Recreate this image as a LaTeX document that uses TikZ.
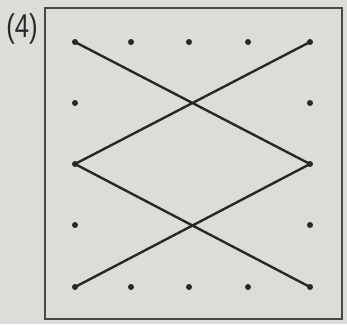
\documentclass[tikz,border=0pt]{standalone}
\usepackage{fontspec}
\setmainfont{Liberation Sans}
\definecolor{paper}{RGB}{221,220,216}
\definecolor{ink}{RGB}{40,40,40}
\tikzset{
  dotnode/.style={circle,fill=ink,inner sep=0pt,minimum size=6pt},
  seg/.style={draw=ink,line width=2.4pt,line cap=round},
  framebox/.style={draw=ink!85,line width=1.6pt}
}
\begin{document}
\begin{tikzpicture}[x=1pt,y=-1pt]
\fill[paper] (0,0) rectangle (347,324);
\useasboundingbox (0,0) rectangle (347,324);
\draw[framebox] (45,8) rectangle (342,319);
\node[font=\fontsize{33}{33}\selectfont,xscale=0.78,ink] (lab) at (22,29) {(4)};
\foreach \c/\xx in {0/75,1/131,2/189,3/248,4/310}{
  \foreach \r/\yy in {0/42,4/287}{
    \node[dotnode] (p\c\r) at (\xx,\yy) {};
  }
}
\foreach \c/\xx in {0/75,4/310}{
  \foreach \r/\yy in {1/103,2/164,3/225}{
    \node[dotnode] (p\c\r) at (\xx,\yy) {};
  }
}
\draw[seg] (p00.center) -- (p42.center) -- (p04.center);
\draw[seg] (p40.center) -- (p02.center) -- (p44.center);
\end{tikzpicture}
\end{document}
